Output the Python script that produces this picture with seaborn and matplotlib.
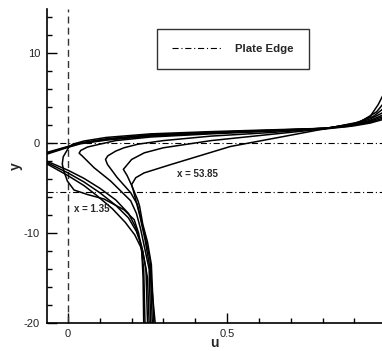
import matplotlib
matplotlib.use("Agg")
import matplotlib.pyplot as plt
from matplotlib.lines import Line2D
from matplotlib.ticker import MultipleLocator, FixedLocator
import pandas as pd
import seaborn as sns

# Streamwise velocity profiles u(y) at successive stations behind the plate
# profile 1 is the station x = 1.35, profile 8 is the station x = 53.85
u1 = [1.00, 0.95, 0.90, 0.81, 0.64, 0.45, 0.26, 0.12, 0.05, 0.015, 0.003, -0.015, -0.018,
      -0.013, -0.002, 0.019, 0.061, 0.113, 0.176, 0.208, 0.222, 0.232, 0.236, 0.238]
y1 = [2.75, 2.25, 1.95, 1.67, 1.50, 1.30, 1.05, 0.65, 0.25, -0.10, -0.42, -1.5, -2.3,
      -3.1, -4.2, -5.2, -5.7, -6.2, -7.4, -8.5, -10.0, -12.0, -15.0, -20.0]

u2 = [1.00, 0.95, 0.90, 0.81, 0.64, 0.45, 0.26, 0.12, 0.04, 0.0, -0.07, -0.10,
      -0.066, 0.0, 0.05, 0.10, 0.15, 0.19, 0.212, 0.228, 0.238, 0.242]
y2 = [2.90, 2.35, 2.00, 1.67, 1.45, 1.22, 0.95, 0.50, 0.05, -0.35, -1.05, -1.5,
      -2.0, -3.0, -3.9, -5.0, -6.3, -7.8, -9.3, -11.0, -14.0, -20.0]

u3 = [1.00, 0.95, 0.90, 0.81, 0.64, 0.45, 0.26, 0.12, 0.04, 0.0, -0.07, -0.10,
      -0.066, 0.0, 0.05, 0.10, 0.15, 0.19, 0.215, 0.232, 0.245, 0.25]
y3 = [3.10, 2.45, 2.05, 1.67, 1.42, 1.18, 0.88, 0.42, 0.0, -0.40, -1.15, -1.6,
      -2.15, -3.3, -4.3, -5.5, -6.9, -8.3, -9.8, -11.5, -14.0, -20.0]

u4 = [1.00, 0.95, 0.90, 0.81, 0.64, 0.45, 0.26, 0.12, 0.04, 0.0, -0.07, -0.10,
      -0.066, 0.0, 0.05, 0.09, 0.14, 0.18, 0.21, 0.235, 0.25, 0.255]
y4 = [3.30, 2.55, 2.10, 1.68, 1.38, 1.12, 0.80, 0.35, -0.05, -0.45, -1.25, -1.7,
      -2.3, -3.6, -4.7, -5.8, -7.3, -8.8, -10.2, -12.0, -15.0, -20.0]

u5 = [1.00, 0.95, 0.90, 0.81, 0.64, 0.45, 0.26, 0.15, 0.10, 0.061, 0.04, 0.035,
      0.045, 0.082, 0.134, 0.197, 0.215, 0.228, 0.24, 0.255, 0.26]
y5 = [3.60, 2.70, 2.15, 1.67, 1.35, 1.05, 0.70, 0.30, -0.10, -0.42, -0.80, -1.10,
      -1.42, -2.72, -4.2, -6.4, -7.8, -9.5, -11.5, -14.0, -20.0]

u6 = [1.00, 0.96, 0.90, 0.81, 0.64, 0.45, 0.30, 0.22, 0.176, 0.15, 0.125, 0.118,
      0.124, 0.155, 0.197, 0.218, 0.23, 0.243, 0.258, 0.265]
y6 = [4.10, 3.00, 2.20, 1.65, 1.20, 0.80, 0.30, -0.10, -0.50, -0.87, -1.40, -1.80,
      -2.35, -3.83, -5.5, -6.8, -8.5, -10.5, -13.0, -20.0]

u7 = [1.00, 0.97, 0.92, 0.81, 0.64, 0.45, 0.30, 0.24, 0.20, 0.174,
      0.186, 0.199, 0.22, 0.225, 0.235, 0.25, 0.262, 0.27]
y7 = [4.80, 3.50, 2.40, 1.62, 1.00, 0.30, -0.50, -1.06, -1.80, -2.90,
      -3.6, -4.6, -6.4, -7.0, -9.0, -11.0, -13.5, -20.0]

u8 = [1.00, 0.985, 0.975, 0.95, 0.89, 0.81, 0.79, 0.51, 0.32, 0.239, 0.213, 0.20,
      0.205, 0.226, 0.242, 0.258, 0.274]
y8 = [6.00, 5.00, 4.30, 3.00, 1.90, 1.60, 1.50, -0.36, -2.40, -3.30, -3.83, -4.60,
      -5.2, -8.1, -10.7, -14.0, -20.0]

profile_u = [u1, u2, u3, u4, u5, u6, u7, u8]
profile_y = [y1, y2, y3, y4, y5, y6, y7, y8]

plate_edges = [0.0, -5.4]
station_labels = ["x = 1.35", "x = 53.85"]
station_label_pos = [(0.019, -7.3), (0.343, -3.45)]

frames = [pd.DataFrame({"u": u, "y": y, "profile": k})
          for k, (u, y) in enumerate(zip(profile_u, profile_y))]
df = pd.concat(frames, ignore_index=True)

sns.set_theme(style="white")
plt.rcParams["font.family"] = ["Liberation Sans", "DejaVu Sans"]
plt.rcParams["axes.unicode_minus"] = False

fig = plt.figure(figsize=(3.82, 3.51), dpi=100)
ax = fig.add_axes([47 / 382, 28 / 351, 335 / 382, 314.5 / 351])

dashdot = (0, (5.5, 2.5, 1.0, 2.5))
for yy in plate_edges:
    ax.axhline(yy, color="black", lw=0.8, ls=dashdot, zorder=1)
ax.axvline(0.0, color="#333333", lw=1.0, ls=(0, (5, 3)), zorder=1)

sns.lineplot(data=df, x="u", y="y", units="profile", estimator=None, sort=False,
             color="black", lw=1.1, ax=ax, legend=False, zorder=3)

for txt, (xx, yy) in zip(station_labels, station_label_pos):
    ax.text(xx, yy, txt, fontsize=7, fontweight="bold", ha="left", va="center")

ax.set_xlim(-0.066, 0.987)
ax.set_ylim(-20, 15)

sns.despine(ax=ax)
for side in ("left", "bottom"):
    ax.spines[side].set_color("black")
    ax.spines[side].set_linewidth(1.2)

ax.xaxis.set_major_locator(FixedLocator([0.0, 0.5, 1.0]))
ax.xaxis.set_minor_locator(MultipleLocator(0.1))
ax.yaxis.set_major_locator(MultipleLocator(10))
ax.yaxis.set_minor_locator(MultipleLocator(2))
ax.set_xticklabels(["0", "0.5", "1"])
ax.tick_params(which="both", direction="in", bottom=True, left=True,
               top=False, right=False, color="black", width=1)
ax.tick_params(which="major", length=7, labelsize=8, labelcolor="#222222")
ax.tick_params(axis="x", which="major", pad=4)
ax.tick_params(axis="y", which="major", pad=5)
ax.tick_params(which="minor", length=3.5)

ax.set_xlabel("u", fontsize=10, fontweight="bold", labelpad=-2)
ax.set_ylabel("y", fontsize=10, fontweight="bold", labelpad=1)

handle = Line2D([], [], color="black", lw=0.8, ls=dashdot)
leg = ax.legend([handle], ["Plate Edge"], loc="center",
                bbox_to_anchor=(0.555, 0.871), frameon=True, fancybox=False,
                prop={"weight": "bold", "size": 8.2}, handlelength=4.4,
                handletextpad=1.1, borderpad=1.35, borderaxespad=0)
leg.get_frame().set_edgecolor("black")
leg.get_frame().set_linewidth(1.0)
leg.get_frame().set_facecolor("white")

fig.savefig("out.png", dpi=100)
